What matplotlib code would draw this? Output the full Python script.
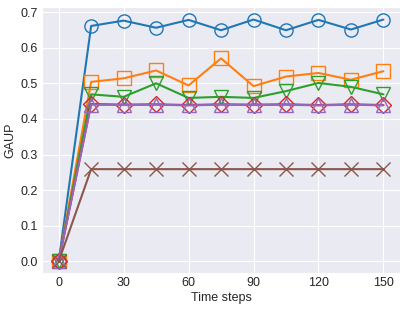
import numpy as np
import matplotlib
matplotlib.use("Agg")
import matplotlib.pyplot as plt
import seaborn as sns

sns.set_style("darkgrid")
plt.rcParams["font.family"] = ["Liberation Sans", "DejaVu Sans"]

steps = [0, 15, 30, 45, 60, 75, 90, 105, 120, 135, 150]

blue = [0.0, 0.661, 0.676, 0.656, 0.678, 0.649, 0.679, 0.649, 0.678, 0.651, 0.679]
orange = [0.0, 0.504, 0.514, 0.536, 0.494, 0.570, 0.492, 0.519, 0.529, 0.510, 0.534]
green = [0.0, 0.469, 0.462, 0.500, 0.459, 0.462, 0.459, 0.478, 0.501, 0.490, 0.469]
red = [0.0, 0.442, 0.440, 0.441, 0.439, 0.441, 0.440, 0.441, 0.439, 0.441, 0.439]
purple = [0.0, 0.440, 0.439, 0.440, 0.438, 0.440, 0.439, 0.440, 0.438, 0.440, 0.438]
brown = [0.0, 0.259, 0.259, 0.259, 0.259, 0.259, 0.259, 0.259, 0.259, 0.259, 0.259]

series = [
    (blue, "C0", "o"),
    (orange, "C1", "s"),
    (green, "C2", "v"),
    (red, "C3", "D"),
    (purple, "C4", "^"),
    (brown, "C5", "x"),
]

fig, ax = plt.subplots(figsize=(4.07, 3.10), dpi=100)
for vals, col, mk in series:
    ms = 8 if mk == "D" else 9.5
    ax.plot(steps, vals, color=col, marker=mk, markersize=ms,
            markerfacecolor="none", markeredgewidth=1.0, linewidth=1.5)

ax.set_xticks([0, 30, 60, 90, 120, 150])
ax.set_yticks(np.arange(0, 0.71, 0.1))
ax.set_xlabel("Time steps", fontsize=9, labelpad=2)
ax.set_ylabel("GAUP", fontsize=9, labelpad=3)
ax.tick_params(labelsize=9, pad=3, length=0)
ax.set_ylim(-0.032, 0.713)
ax.set_xlim(-7.7, 157.7)
fig.subplots_adjust(left=0.1032, right=0.983, top=0.976, bottom=0.120)
fig.savefig("out.png", dpi=100)
